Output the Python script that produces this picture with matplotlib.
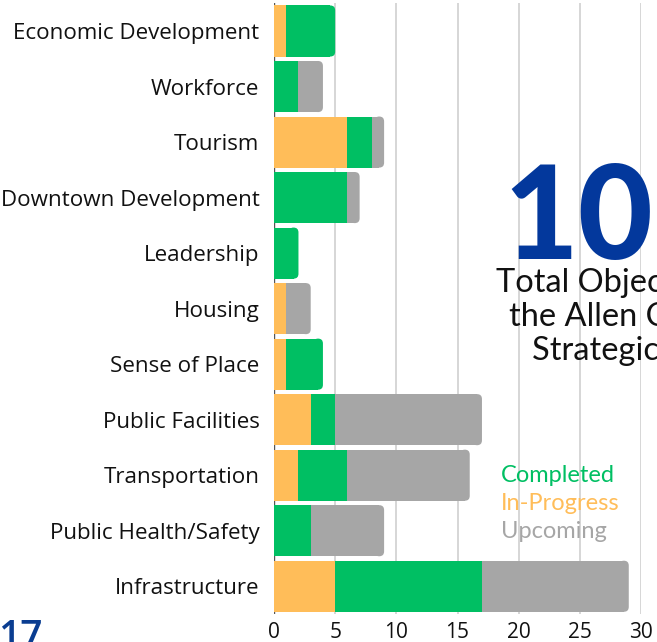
import matplotlib
matplotlib.use("Agg")
import matplotlib.pyplot as plt
from matplotlib.patches import FancyBboxPatch
import numpy as np

categories = ["Economic Development", "Workforce", "Tourism", "Downtown Development",
              "Leadership", "Housing", "Sense of Place", "Public Facilities",
              "Transportation", "Public Health/Safety", "Infrastructure"]
in_progress = [1, 0, 6, 0, 0, 1, 1, 3, 2, 0, 5]
completed   = [4, 2, 2, 6, 2, 0, 3, 2, 4, 3, 12]
upcoming    = [0, 2, 1, 1, 0, 2, 0, 12, 10, 6, 12]
x_ticks = [0, 5, 10, 15, 20, 25, 30]

series = [("In-Progress", in_progress, "#FFBD59"),
          ("Completed", completed, "#00BF63"),
          ("Upcoming", upcoming, "#A6A6A6")]

W, H = 657, 642
fig = plt.figure(figsize=(W / 100, H / 100), dpi=100)
ax = fig.add_axes([274 / W, 28 / H, 367 / W, (614 - 3.25) / H])

y = np.arange(len(categories))
bar_h = 0.92
rx = 0.4  # rounding in x data units
aspect = (1 / 55.5) / (1 / 12.23)

totals = np.array(in_progress) + np.array(completed) + np.array(upcoming)
left = np.zeros(len(categories))
for name, vals, col in series:
    vals = np.array(vals, dtype=float)
    for i in range(len(categories)):
        v = vals[i]
        if v <= 0:
            continue
        is_last = abs(left[i] + v - totals[i]) < 1e-9
        w = v - rx if is_last else v
        ax.barh(y[i], w, left=left[i], height=bar_h, color=col, linewidth=0, zorder=3)
        if is_last:
            p = FancyBboxPatch((totals[i] - 2 * rx, y[i] - bar_h / 2), 2 * rx, bar_h,
                               boxstyle=f"round,pad=0,rounding_size={rx}",
                               mutation_aspect=aspect, facecolor=col,
                               edgecolor="none", zorder=3)
            ax.add_patch(p)
    left += vals

ax.set_ylim(len(categories) - 0.5, -0.5)
ax.set_xlim(0, 30)
ax.set_xticks(x_ticks)
ax.set_xticklabels([str(t) for t in x_ticks], fontsize=15, family="Open Sans", color="#111111")
ax.set_yticks(y)
ax.set_yticklabels(categories, fontsize=16.1, family="Open Sans", color="#111111")
ax.tick_params(axis="both", length=0)
ax.tick_params(axis="x", pad=6)
ax.tick_params(axis="y", pad=10.5)
for s in ax.spines.values():
    s.set_visible(False)
ax.grid(axis="x", color="#CFCFCF", linewidth=1.2, zorder=0)
ax.axvline(0, color="#555555", linewidth=1.0, zorder=1)
ax.set_axisbelow(True)

# overlay texts
fig.text(503 / W, 1 - 259 / H, "105", fontsize=93, family="Lato", fontweight="black",
         color="#03389C", ha="left", va="baseline")
info_lines = ["Total Objectives in", "the Allen County", "Strategic Plan"]
info_base = [292, 326, 360]
for line, yb in zip(info_lines, info_base):
    fig.text(630 / W, 1 - yb / H, line, fontsize=23.5, family="Lato", color="#111111",
             ha="center", va="baseline")
fig.text(501 / W, 1 - 475 / H, "Completed", fontsize=17, family="Lato", color="#00BF63",
         ha="left", va="center")
fig.text(501 / W, 1 - 503 / H, "In-Progress", fontsize=17, family="Lato", color="#FFBD59",
         ha="left", va="center")
fig.text(501 / W, 1 - 531 / H, "Upcoming", fontsize=17, family="Lato", color="#A6A6A6",
         ha="left", va="center")
fig.text(-2 / W, 1 - 619 / H, "17", fontsize=28, family="Open Sans", fontweight="semibold",
         color="#0A3D91", ha="left", va="top")

fig.savefig("out.png", dpi=100)
